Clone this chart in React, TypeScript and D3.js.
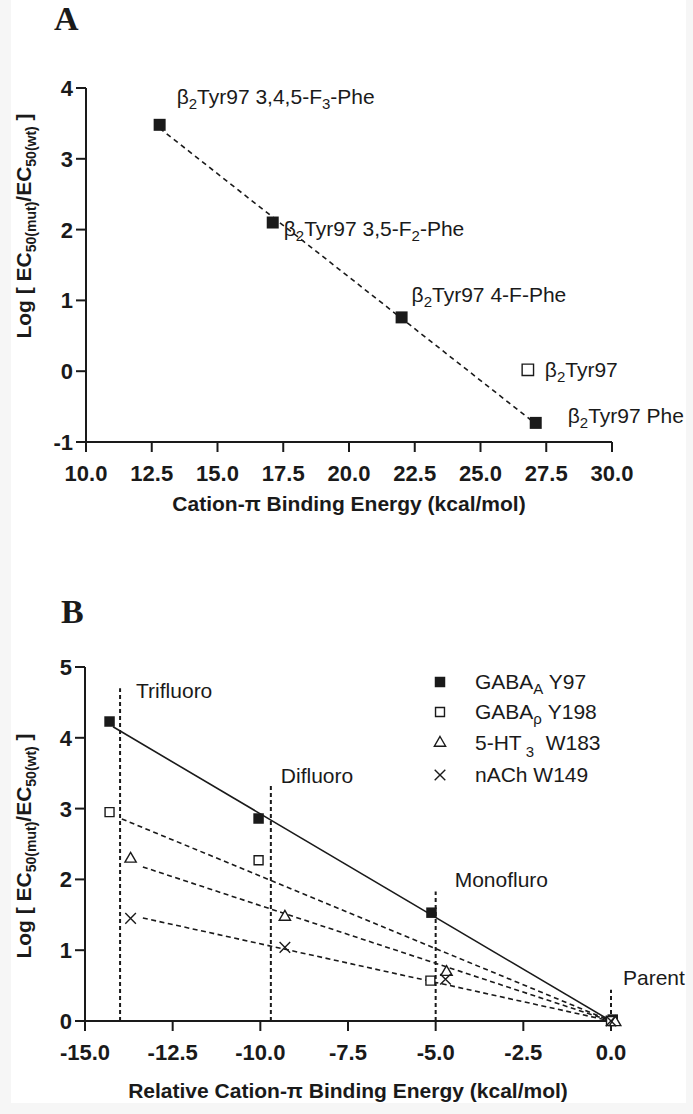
import React from 'react'
import * as d3 from 'd3'

// panel A: binding energy vs log EC50 ratio
const aEnergy = [12.8, 17.1, 22.0, 27.1]
const aLogRatio = [3.48, 2.1, 0.76, -0.73]
const aLabelTail = [' 3,4,5-F', ' 3,5-F', ' 4-F-Phe', ' Phe']
const aLabelSub = ['3', '2', '', '']
const aLabelEnd = ['-Phe', '-Phe', '', '']
const aWtEnergy = 26.8
const aWtLogRatio = 0.02
const aXTicks = [10, 12.5, 15, 17.5, 20, 22.5, 25, 27.5, 30]
const aYTicks = [-1, 0, 1, 2, 3, 4]

// panel B: relative energy, one series per receptor
const bSeries = ['GABA_A Y97', 'GABA_rho Y198', '5-HT3 W183', 'nACh W149']
const bEnergyGabaA = [-14.3, -10.05, -5.12, 0.05]
const bLogGabaA = [4.23, 2.86, 1.53, 0.02]
const bEnergyGabaRho = [-14.3, -10.05, -5.15, 0.0]
const bLogGabaRho = [2.95, 2.27, 0.57, 0.0]
const bEnergyHT3 = [-13.7, -9.3, -4.69, 0.12]
const bLogHT3 = [2.29, 1.47, 0.69, -0.02]
const bEnergyNACh = [-13.7, -9.3, -4.72, 0.0]
const bLogNACh = [1.45, 1.04, 0.59, 0.0]
const bRefNames = ['Trifluoro', 'Difluoro', 'Monofluro', 'Parent']
const bRefEnergy = [-14.0, -9.7, -5.0, 0.0]
const bRefTop = [4.7, 3.32, 1.83, 0.44]
const bXTicks = [-15, -12.5, -10, -7.5, -5, -2.5, 0]
const bYTicks = [0, 1, 2, 3, 4, 5]

const FONT = '"Liberation Sans", Arial, Helvetica, sans-serif'
const INK = '#1a1a1a'

// annotation offsets (px) from each labelled point
const aLabelOffset = [[17, -21], [11, 13], [10, -15], [32, 0]]
const bRefLabelOffset = [[16, 10], [10, -3], [19, -4], [12, -5]]

const fmt1 = (d: number) => d.toFixed(1)

// least squares fit through origin
function originSlope(xs: number[], ys: number[]) {
  const sxy = d3.sum(xs, (x, i) => x * ys[i])
  const sxx = d3.sum(xs, x => x * x)
  return sxy / sxx
}

function linFit(xs: number[], ys: number[]) {
  const mx = d3.mean(xs)!, my = d3.mean(ys)!
  const sxy = d3.sum(xs, (x, i) => (x - mx) * (ys[i] - my))
  const sxx = d3.sum(xs, x => (x - mx) * (x - mx))
  const m = sxy / sxx
  return (x: number) => my + m * (x - mx)
}

function YTitle({ x, y }: { x: number; y: number }) {
  return (
    <text transform={`translate(${x},${y}) rotate(-90)`} textAnchor="middle"
      fontFamily={FONT} fontWeight="bold" fontSize={21} fill={INK}>
      Log [ EC<tspan fontSize={14} dy={5}>50(mut)</tspan>
      <tspan dy={-5}>/EC</tspan><tspan fontSize={14} dy={5}>50(wt)</tspan>
      <tspan dy={-5}> ]</tspan>
    </text>
  )
}

function Axes({ x, y, xTicks, yTicks, xFmt }: any) {
  const [x0, x1] = x.range()
  const [y0, y1] = y.range()
  return (
    <g stroke={INK} strokeWidth={2} fontFamily={FONT}>
      <line x1={x0} x2={x1} y1={y0} y2={y0} />
      <line x1={x0} x2={x0} y1={y0 + 1} y2={y1} />
      {xTicks.map((t: number) => (
        <g key={'x' + t}>
          <line x1={x(t)} x2={x(t)} y1={y0} y2={y0 + 10} />
          <text x={x(t)} y={y0 + 39} textAnchor="middle" stroke="none" fill={INK}
            fontWeight="bold" fontSize={22}>{xFmt(t)}</text>
        </g>
      ))}
      {yTicks.map((t: number) => (
        <g key={'y' + t}>
          <line x1={x0 - 10} x2={x0} y1={y(t)} y2={y(t)} />
          <text x={x0 - 13} y={y(t)} dy="0.36em" textAnchor="end" stroke="none" fill={INK}
            fontWeight="bold" fontSize={22}>{t}</text>
        </g>
      ))}
    </g>
  )
}

function PanelA() {
  const x = d3.scaleLinear().domain([10, 30]).range([86, 612])
  const y = d3.scaleLinear().domain([-1, 4]).range([442, 88])
  const fit = linFit(aEnergy, aLogRatio)
  const ext = d3.extent(aEnergy) as [number, number]
  const line = d3.line<number>().x(d => x(d)).y(d => y(fit(d)))
  const sq = d3.symbol(d3.symbolSquare, 144)()
  const sqOpen = d3.symbol(d3.symbolSquare, 130)()
  return (
    <g>
      <text x={54} y={30} fontFamily='"Liberation Serif", "Times New Roman", serif'
        fontWeight="bold" fontSize={34} fill={INK}>A</text>
      <Axes x={x} y={y} xTicks={aXTicks} yTicks={aYTicks} xFmt={fmt1} />
      <path d={line(ext)!} fill="none" stroke={INK} strokeWidth={1.6} strokeDasharray="5,4" />
      {aEnergy.map((e, i) => (
        <g key={i}>
          <path d={sq!} transform={`translate(${x(e)},${y(aLogRatio[i])})`} fill={INK} />
          <text x={x(e) + aLabelOffset[i][0]} y={y(aLogRatio[i]) + aLabelOffset[i][1]}
            fontFamily={FONT} fontSize={21} fill={INK}>
            β<tspan fontSize={15} dy={5}>2</tspan><tspan dy={-5}>Tyr97{aLabelTail[i]}</tspan>
            {aLabelSub[i] && <tspan fontSize={15} dy={5}>{aLabelSub[i]}</tspan>}
            {aLabelEnd[i] && <tspan dy={-5}>{aLabelEnd[i]}</tspan>}
          </text>
        </g>
      ))}
      <path d={sqOpen!} transform={`translate(${x(aWtEnergy)},${y(aWtLogRatio)})`}
        fill="#fff" stroke={INK} strokeWidth={1.4} />
      <text x={x(aWtEnergy) + 17} y={y(aWtLogRatio) + 7} fontFamily={FONT} fontSize={21} fill={INK}>
        β<tspan fontSize={15} dy={5}>2</tspan><tspan dy={-5}>Tyr97</tspan>
      </text>
      <text x={x(20)} y={511} textAnchor="middle" fontFamily={FONT} fontWeight="bold"
        fontSize={21} fill={INK}>Cation-π Binding Energy (kcal/mol)</text>
      <YTitle x={31} y={226} />
    </g>
  )
}

function PanelB() {
  const x = d3.scaleLinear().domain([-15, 0]).range([85, 611])
  const y = d3.scaleLinear().domain([0, 5]).range([1021, 667])
  const data = [
    { xs: bEnergyGabaA, ys: bLogGabaA },
    { xs: bEnergyGabaRho, ys: bLogGabaRho },
    { xs: bEnergyHT3, ys: bLogHT3 },
    { xs: bEnergyNACh, ys: bLogNACh },
  ]
  const marker = [
    { d: d3.symbol(d3.symbolSquare, 110)(), fill: INK, stroke: 'none' },
    { d: d3.symbol(d3.symbolSquare, 80)(), fill: '#fff', stroke: INK },
    { d: d3.symbol(d3.symbolTriangle, 55)(), fill: '#fff', stroke: INK },
    { d: d3.symbol(d3.symbolTimes, 75)(), fill: 'none', stroke: INK },
  ]
  const legendY = [682, 712, 743, 775]
  return (
    <g>
      <text x={61} y={623} fontFamily='"Liberation Serif", "Times New Roman", serif'
        fontWeight="bold" fontSize={34} fill={INK}>B</text>
      {bRefEnergy.map((e, i) => (
        <g key={i}>
          <line x1={x(e)} x2={x(e)} y1={y(0)} y2={y(bRefTop[i])} stroke={INK}
            strokeWidth={2} strokeDasharray="4,3" />
          <text x={x(e) + bRefLabelOffset[i][0]} y={y(bRefTop[i]) + bRefLabelOffset[i][1]}
            fontFamily={FONT} fontSize={21} fill={INK}>{bRefNames[i]}</text>
        </g>
      ))}
      <Axes x={x} y={y} xTicks={bXTicks} yTicks={bYTicks} xFmt={fmt1} />
      {data.map((s, i) => {
        const m = originSlope(s.xs, s.ys)
        const start = d3.min(s.xs)! + (i === 0 ? 0.1 : 0.35)
        const ln = d3.line<number>().x(d => x(d)).y(d => y(m * d))
        return (
          <path key={'l' + i} d={ln([start, 0])!} fill="none" stroke={INK}
            strokeWidth={1.6} strokeDasharray={i === 0 ? undefined : '5,3.5'} />
        )
      })}
      {data.map((s, i) =>
        s.xs.map((e, j) => (
          <path key={i + '-' + j} d={marker[i].d!} transform={`translate(${x(e)},${y(s.ys[j])})`}
            fill={marker[i].fill} stroke={marker[i].stroke} strokeWidth={1.4} />
        ))
      )}
      {bSeries.map((name, i) => (
        <g key={name}>
          <path d={marker[i].d!} transform={`translate(440,${legendY[i]})`}
            fill={marker[i].fill} stroke={marker[i].stroke} strokeWidth={1.4} />
          <text x={475} y={legendY[i] + 7} fontFamily={FONT} fontSize={21} fill={INK}>
            {i === 0 && <>GABA<tspan fontSize={15} dy={5}>A</tspan><tspan dy={-5}> Y97</tspan></>}
            {i === 1 && <>GABA<tspan fontSize={15} dy={5}>ρ</tspan><tspan dy={-5}> Y198</tspan></>}
            {i === 2 && <>5-HT<tspan fontSize={15} dy={7} dx={4}>3</tspan><tspan dy={-7}>{'\u00a0\u00a0'}W183</tspan></>}
            {i === 3 && <>nACh W149</>}
          </text>
        </g>
      ))}
      <text x={x(-7.5)} y={1098} textAnchor="middle" fontFamily={FONT} fontWeight="bold"
        fontSize={21} fill={INK}>Relative Cation-π Binding Energy (kcal/mol)</text>
      <YTitle x={31} y={846} />
    </g>
  )
}

export default function App() {
  return (
    <div style={{ position: 'absolute', left: 0, top: 0 }}>
      <svg width={693} height={1114} style={{ display: 'block' }}>
        <rect width={693} height={1114} fill="#f6f6f6" />
        <rect x={11} y={0} width={675} height={1103} fill="#fff" />
        <PanelA />
        <PanelB />
      </svg>
    </div>
  )
}
